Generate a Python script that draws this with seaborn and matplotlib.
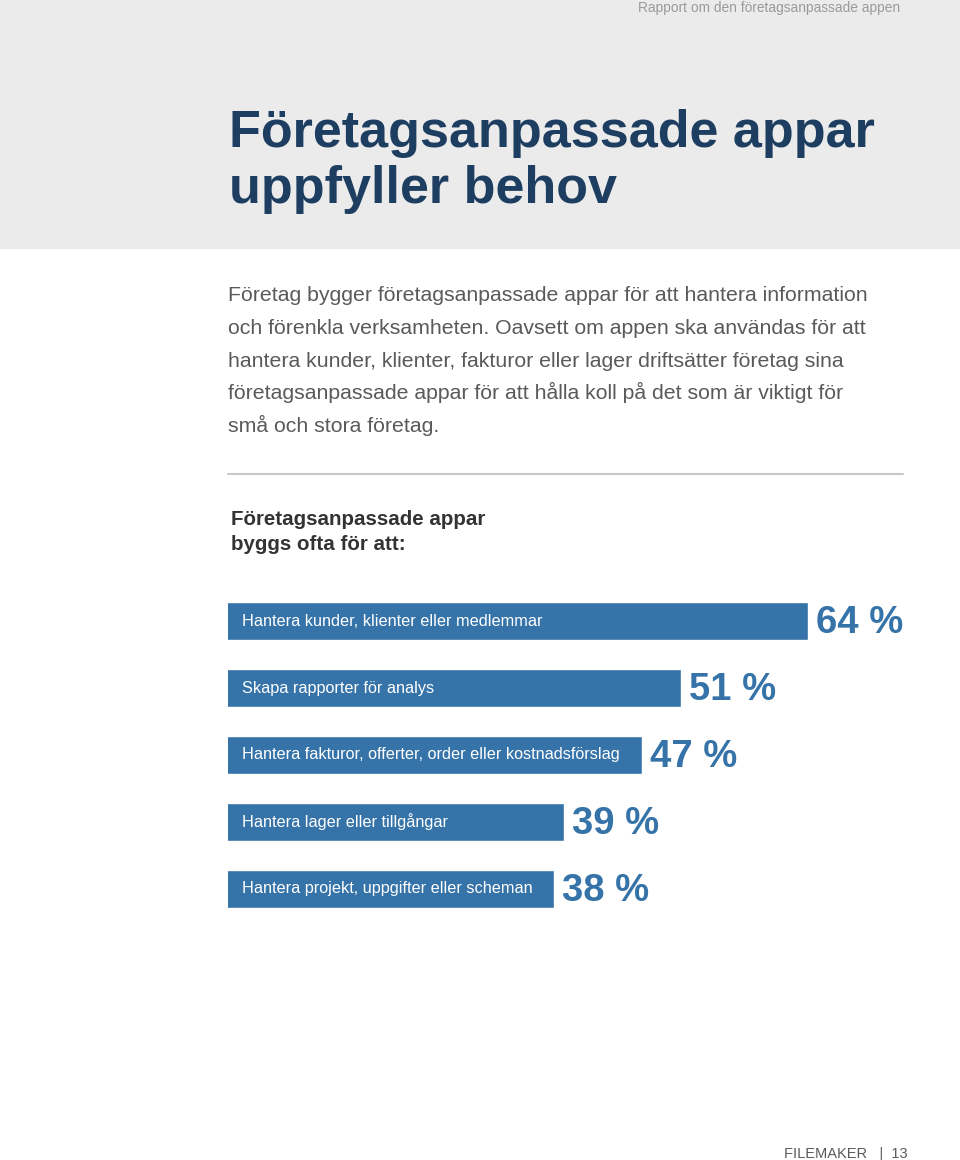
import matplotlib
matplotlib.use("Agg")
import matplotlib.pyplot as plt
from matplotlib.patches import Rectangle
from matplotlib.lines import Line2D
import seaborn as sns

# ==================== DATA ====================
categories = ['Hantera kunder, klienter eller medlemmar',
              'Skapa rapporter för analys',
              'Hantera fakturor, offerter, order eller kostnadsförslag',
              'Hantera lager eller tillgångar',
              'Hantera projekt, uppgifter eller scheman']
values = [64, 51, 47, 39, 38]

title_lines = ['Företagsanpassade appar', 'uppfyller behov']
body_lines = ['Företag bygger företagsanpassade appar för att hantera information',
              'och förenkla verksamheten. Oavsett om appen ska användas för att',
              'hantera kunder, klienter, fakturor eller lager driftsätter företag sina',
              'företagsanpassade appar för att hålla koll på det som är viktigt för',
              'små och stora företag.']
chart_title = ['Företagsanpassade appar', 'byggs ofta för att:']
header_text = 'Rapport om den företagsanpassade appen'
footer_text = 'FILEMAKER   |  13'

# ==================== СТИЛЬ ====================
W, H = 960, 1160
BAR = '#3573a8'
NAVY = '#1d3e60'
GREY = '#5a5a5c'

sns.set_theme(style='white')
plt.rcParams['font.family'] = ['Liberation Sans', 'DejaVu Sans']

fig = plt.figure(figsize=(W / 100, H / 100), dpi=100)
fig.patch.set_facecolor('white')


def fx(x):
    return x / W


def fy(y):
    return 1 - y / H


# серая шапка
fig.patches.append(Rectangle((0, fy(248)), 1, 248 / H, transform=fig.transFigure,
                             color='#ebebeb', zorder=0))
fig.text(fx(900), fy(12), header_text, ha='right', va='baseline',
         fontsize=9.9, color='#9a9a9a')

for i, line in enumerate(title_lines):
    fig.text(fx(229), fy(147 + i * 56), line, ha='left', va='baseline',
             fontsize=37.5, fontweight='bold', color=NAVY)

for i, line in enumerate(body_lines):
    fig.text(fx(228), fy(301 + i * 32.8), line, ha='left', va='baseline',
             fontsize=15.3, color=GREY)

fig.lines.append(Line2D([fx(228), fx(903)], [fy(474), fy(474)], transform=fig.transFigure,
                        color='#c8c8c8', lw=1.5))

for i, line in enumerate(chart_title):
    fig.text(fx(231), fy(525 + i * 25), line, ha='left', va='baseline',
             fontsize=14.8, fontweight='bold', color='#333333')

# ==================== БАРЫ ====================
x0 = 4.67
scale = 9.775  # px на процент
ax_w = 675
ax = fig.add_axes([fx(228), fy(922.5), ax_w / W, 335 / H])
sns.barplot(x=values, y=categories, orient='h', color=BAR, saturation=1,
            width=0.567, ax=ax)
ax.set_xlim(x0, x0 + ax_w / scale)
ax.set_ylim(4.5, -0.5)
ax.axis('off')

for i, (cat, v) in enumerate(zip(categories, values)):
    ax.text(14 / ax_w, i, cat, transform=ax.get_yaxis_transform(),
            ha='left', va='center', fontsize=11.7, color='white')
    ax.annotate(f'{v} %', xy=(v, i), xytext=(8, -2), textcoords='offset pixels',
                ha='left', va='center', fontsize=27.5, fontweight='bold',
                color=BAR, annotation_clip=False)

fig.text(fx(908), fy(1158), footer_text, ha='right', va='baseline',
         fontsize=10.5, color=GREY)

plt.savefig('out.png', dpi=100)
